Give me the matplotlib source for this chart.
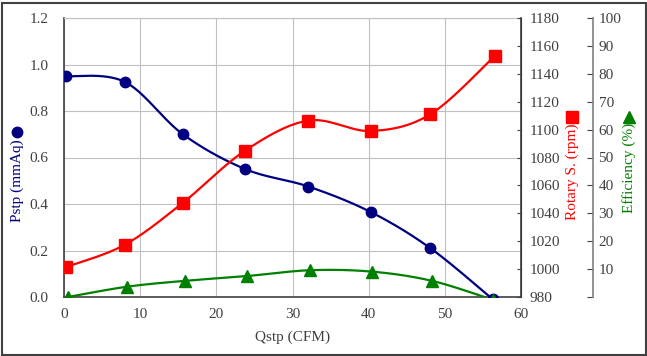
import numpy as np
import matplotlib
matplotlib.use("Agg")
import matplotlib.pyplot as plt
from matplotlib.lines import Line2D
from matplotlib.patches import Rectangle

# data
qstp = [0.3, 8.0, 15.6, 23.8, 32.1, 40.3, 48.1, 56.3]
pstp = [0.95, 0.925, 0.70, 0.55, 0.475, 0.365, 0.21, -0.01]
qstp_rpm = [0.3, 8.0, 15.6, 23.8, 32.1, 40.3, 48.1, 56.6]
rpm = [1001.5, 1017.5, 1047.5, 1085, 1106.5, 1099, 1111, 1153]
qstp_eff = [0.5, 8.3, 15.9, 24.0, 32.3, 40.4, 48.3, 56.3]
eff = [0.0, 3.7, 5.8, 7.5, 9.6, 9.1, 5.8, -1.0]

x_ticks = [0, 10, 20, 30, 40, 50, 60]
p_ticks = [0.0, 0.2, 0.4, 0.6, 0.8, 1.0, 1.2]
rpm_ticks = list(range(980, 1181, 20))
eff_ticks = list(range(10, 101, 10))

NAVY = "#000080"
RED = "#ff0000"
GREEN = "#008000"
TXT = "#404040"
FONT = "Liberation Serif"

plt.rcParams["font.family"] = FONT
plt.rcParams["font.size"] = 11


def smooth(xs, ys, n=30):
    # excel style smoothed line (catmull-rom through the points)
    p = np.column_stack([xs, ys]).astype(float)
    p = np.vstack([p[0], p, p[-1]])
    out = []
    for i in range(1, len(p) - 2):
        p0, p1, p2, p3 = p[i - 1], p[i], p[i + 1], p[i + 2]
        b1 = p1 + (p2 - p0) / 6
        b2 = p2 - (p3 - p1) / 6
        t = np.linspace(0, 1, n)[:, None]
        seg = ((1 - t) ** 3) * p1 + 3 * ((1 - t) ** 2) * t * b1 + 3 * (1 - t) * t ** 2 * b2 + t ** 3 * p2
        out.append(seg)
    s = np.vstack(out)
    return s[:, 0], s[:, 1]


fig = plt.figure(figsize=(6.47, 3.56), dpi=100)
ax = fig.add_axes([64 / 647, 1 - 297 / 356, 457 / 647, 279 / 356])
ax2 = ax.twinx()
ax3 = ax.twinx()

# left axis: Pstp
sx, sy = smooth(qstp, pstp)
ax.plot(sx, sy, color=NAVY, lw=1.6, zorder=3)
ax.plot(qstp, pstp, "o", color=NAVY, ms=7.5, zorder=4)
ax.set_xlim(0, 60)
ax.set_ylim(0, 1.2)
ax.set_xticks(x_ticks)
ax.set_yticks(p_ticks)
ax.set_yticklabels([f"{v:.1f}" for v in p_ticks])
ax.grid(True, color="#c0c0c0", lw=0.8)
ax.set_axisbelow(True)
ax.tick_params(length=0, colors=TXT, labelsize=11)
ax.tick_params(axis="x", pad=8)
ax.tick_params(axis="y", pad=11)
ax.spines["top"].set_color("#c0c0c0")
for s in ["left", "bottom"]:
    ax.spines[s].set_color(TXT)
    ax.spines[s].set_linewidth(1.2)
ax.set_xlabel("Qstp (CFM)", color=TXT, fontsize=11, labelpad=7)

# rotary speed
sx, sy = smooth(qstp_rpm, rpm)
ax2.plot(sx, sy, color=RED, lw=1.6, zorder=3)
ax2.plot(qstp_rpm, rpm, "s", color=RED, ms=8.5, zorder=4)
ax2.set_ylim(980, 1180)
ax2.set_yticks(rpm_ticks)
ax2.tick_params(axis="y", direction="in", length=3, colors=TXT, labelsize=11, pad=6)
ax2.spines["right"].set_color(TXT)
ax2.spines["right"].set_linewidth(1.2)
for s in ["top", "left", "bottom"]:
    ax2.spines[s].set_visible(False)

# efficiency
sx, sy = smooth(qstp_eff, eff)
ax3.plot(sx, sy, color=GREEN, lw=1.6, zorder=3)
ax3.plot(qstp_eff, eff, "^", color=GREEN, ms=8, zorder=4)
ax3.set_ylim(0, 100)
ax3.set_yticks([0] + eff_ticks)
ax3.set_yticklabels([""] + [str(v) for v in eff_ticks])
ax3.spines["right"].set_position(("axes", (593 - 64) / 457))
ax3.spines["right"].set_color("#808080")
ax3.spines["right"].set_linewidth(1.2)
for s in ["top", "left", "bottom"]:
    ax3.spines[s].set_visible(False)
ax3.tick_params(axis="y", direction="in", length=4, colors=TXT, labelsize=11, pad=4)

# axis titles with their series markers
fig.text(17 / 647, 1 - 181 / 356, "Pstp (mmAq)", rotation=90, color=NAVY,
         ha="center", va="center", fontsize=11)
fig.add_artist(Line2D([17 / 647], [1 - 132 / 356], marker="o", color=NAVY, ms=7.5,
                      transform=fig.transFigure))
fig.text(572 / 647, 1 - 172 / 356, "Rotary S. (rpm)", rotation=90, color=RED,
         ha="center", va="center", fontsize=11)
fig.add_artist(Line2D([572 / 647], [1 - 117 / 356], marker="s", color=RED, ms=8.5,
                      transform=fig.transFigure))
fig.text(629 / 647, 1 - 168 / 356, "Efficiency (%)", rotation=90, color=GREEN,
         ha="center", va="center", fontsize=11)
fig.add_artist(Line2D([629 / 647], [1 - 117 / 356], marker="^", color=GREEN, ms=8.5,
                      transform=fig.transFigure))

# outer frame
fig.add_artist(Rectangle((1.5 / 647, 1.5 / 356), 644 / 647, 352 / 356, fill=False,
                         ec="#404040", lw=1.5, transform=fig.transFigure))

fig.savefig("out.png", dpi=100)
